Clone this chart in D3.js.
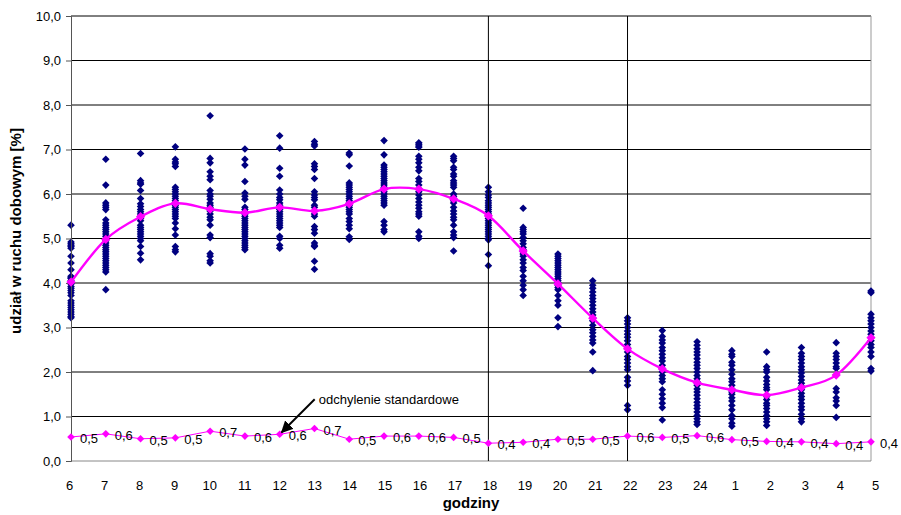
<!DOCTYPE html>
<html>
<head>
<meta charset="utf-8">
<script src="https://cdn.jsdelivr.net/npm/d3@7"></script>
<style>
  body { margin: 0; background: #fff; }
  svg { font-family: "Liberation Sans", Arial, sans-serif; }
</style>
</head>
<body>
<svg id="chart"></svg>
<script>
const width = 901
const height = 515

// hours on the x axis
const hourLabels = ['6', '7', '8', '9', '10', '11', '12', '13', '14', '15', '16', '17',
  '18', '19', '20', '21', '22', '23', '24', '1', '2', '3', '4', '5']

// mean share per hour (smoothed magenta line)
const meanVals = [4.02, 4.98, 5.49, 5.79, 5.66, 5.58, 5.70, 5.62, 5.78, 6.11, 6.11, 5.89,
  5.51, 4.72, 3.98, 3.21, 2.52, 2.07, 1.76, 1.60, 1.48, 1.65, 1.93, 2.77]

// standard deviation per hour
const stdVals = [0.54, 0.61, 0.50, 0.52, 0.67, 0.56, 0.60, 0.73, 0.49, 0.56, 0.56, 0.53,
  0.40, 0.42, 0.49, 0.49, 0.56, 0.53, 0.57, 0.48, 0.44, 0.43, 0.39, 0.43]

// single measurements, one list per hour
const samples = [
  [5.3, 4.92, 4.88, 4.85, 4.82, 4.78, 4.6, 4.45, 4.3, 4.15, 4.1, 4.05, 3.98, 3.92, 3.88, 3.83, 3.78, 3.72, 3.6, 3.55, 3.5, 3.45, 3.4, 3.35, 3.3, 3.25, 3.22, 4.0, 4.12],
  [6.78, 6.2, 5.8, 5.75, 5.7, 5.65, 5.42, 5.35, 5.3, 5.25, 5.2, 5.15, 5.1, 5.05, 5.0, 4.95, 4.9, 4.85, 4.8, 4.75, 4.7, 4.65, 4.6, 4.55, 4.5, 4.45, 4.4, 4.35, 4.3, 4.25, 3.85],
  [6.91, 6.3, 6.25, 6.22, 6.08, 5.9, 5.78, 5.72, 5.65, 5.6, 5.55, 5.5, 5.45, 5.4, 5.3, 5.25, 5.2, 5.15, 5.1, 5.05, 5.0, 4.95, 4.82, 4.67, 4.52],
  [7.06, 6.78, 6.72, 6.68, 6.62, 6.15, 6.1, 6.05, 6.0, 5.95, 5.9, 5.85, 5.8, 5.75, 5.7, 5.65, 5.6, 5.55, 5.5, 5.45, 5.35, 5.22, 5.08, 4.82, 4.75, 4.7],
  [7.76, 6.8, 6.7, 6.5, 6.4, 6.32, 6.08, 6.0, 5.95, 5.88, 5.8, 5.75, 5.7, 5.62, 5.55, 5.48, 5.42, 5.3, 5.08, 5.02, 4.66, 4.6, 4.5, 4.45],
  [7.01, 6.78, 6.65, 6.28, 6.02, 5.95, 5.88, 5.7, 5.65, 5.6, 5.55, 5.5, 5.45, 5.4, 5.35, 5.3, 5.25, 5.2, 5.15, 5.1, 5.05, 5.0, 4.95, 4.9, 4.85, 4.8, 4.75],
  [7.31, 7.03, 6.58, 6.4, 6.09, 6.0, 5.92, 5.87, 5.8, 5.75, 5.7, 5.65, 5.6, 5.55, 5.5, 5.45, 5.4, 5.35, 5.3, 5.25, 5.05, 5.0, 4.85, 4.78],
  [7.18, 7.12, 7.08, 6.68, 6.62, 6.55, 6.35, 6.05, 5.98, 5.92, 5.87, 5.75, 5.7, 5.62, 5.55, 5.5, 5.27, 5.2, 5.12, 4.9, 4.85, 4.82, 4.49, 4.31],
  [6.92, 6.88, 6.63, 6.25, 6.2, 6.15, 6.1, 6.05, 6.0, 5.95, 5.9, 5.85, 5.8, 5.75, 5.7, 5.65, 5.6, 5.55, 5.45, 5.38, 5.3, 5.22, 5.04, 4.98],
  [7.2, 6.88, 6.65, 6.6, 6.55, 6.5, 6.45, 6.4, 6.35, 6.3, 6.25, 6.2, 6.15, 6.1, 6.05, 6.0, 5.95, 5.9, 5.85, 5.8, 5.75, 5.38, 5.3, 5.2, 5.15],
  [7.15, 7.12, 7.08, 7.05, 6.85, 6.78, 6.7, 6.6, 6.52, 6.35, 6.28, 6.2, 6.12, 6.05, 5.98, 5.9, 5.82, 5.75, 5.68, 5.6, 5.55, 5.5, 5.15, 5.05, 5.0],
  [6.85, 6.8, 6.75, 6.6, 6.55, 6.45, 6.4, 6.3, 6.25, 6.2, 6.15, 6.0, 5.95, 5.9, 5.85, 5.8, 5.7, 5.62, 5.55, 5.48, 5.42, 5.3, 5.15, 5.08, 5.02, 4.72],
  [6.15, 6.05, 5.98, 5.92, 5.85, 5.8, 5.75, 5.7, 5.65, 5.6, 5.55, 5.5, 5.45, 5.4, 5.35, 5.3, 5.25, 5.2, 5.15, 5.1, 5.05, 5.0, 4.97, 4.64, 4.39],
  [5.68, 5.25, 5.2, 5.15, 5.1, 5.02, 4.95, 4.88, 4.8, 4.75, 4.7, 4.65, 4.6, 4.52, 4.45, 4.35, 4.28, 4.15, 4.05, 3.95, 3.85, 3.72],
  [4.65, 4.6, 4.55, 4.5, 4.45, 4.4, 4.35, 4.3, 4.25, 4.2, 4.15, 4.1, 4.05, 4.0, 3.95, 3.9, 3.85, 3.72, 3.6, 3.5, 3.22, 3.02],
  [4.05, 3.95, 3.88, 3.8, 3.72, 3.65, 3.58, 3.5, 3.42, 3.35, 3.28, 3.22, 3.15, 3.05, 2.95, 2.88, 2.8, 2.72, 2.65, 2.45, 2.03],
  [3.22, 3.15, 3.08, 3.0, 2.92, 2.85, 2.78, 2.7, 2.62, 2.55, 2.45, 2.35, 2.28, 2.2, 2.12, 2.05, 1.88, 1.8, 1.7, 1.25, 1.15],
  [2.93, 2.8, 2.72, 2.65, 2.55, 2.48, 2.4, 2.32, 2.25, 2.15, 2.08, 2.0, 1.92, 1.85, 1.78, 1.6, 1.5, 1.4, 1.3, 1.2, 0.92],
  [2.68, 2.6, 2.52, 2.45, 2.38, 2.3, 2.22, 2.15, 2.08, 2.0, 1.92, 1.85, 1.78, 1.7, 1.62, 1.55, 1.48, 1.4, 1.32, 1.25, 1.18, 1.1, 1.02, 0.95, 0.88, 0.82],
  [2.48, 2.4, 2.35, 2.22, 2.15, 2.05, 1.95, 1.85, 1.78, 1.7, 1.62, 1.55, 1.5, 1.42, 1.35, 1.25, 1.15, 1.02, 0.95, 0.85, 0.78],
  [2.45, 2.12, 2.05, 2.0, 1.88, 1.8, 1.72, 1.65, 1.6, 1.45, 1.38, 1.3, 1.25, 1.18, 1.1, 1.02, 0.95, 0.88, 0.8],
  [2.55, 2.42, 2.35, 2.28, 2.2, 2.12, 2.05, 1.98, 1.9, 1.82, 1.75, 1.68, 1.6, 1.52, 1.45, 1.38, 1.3, 1.22, 1.15, 1.05, 0.95, 0.88],
  [2.66, 2.42, 2.35, 2.28, 2.2, 2.12, 2.08, 1.93, 1.63, 1.55, 1.42, 1.35, 1.25, 0.98],
  [3.82, 3.78, 3.3, 3.22, 3.15, 3.08, 3.0, 2.92, 2.85, 2.78, 2.7, 2.62, 2.55, 2.45, 2.35, 2.08, 2.02]
]

const yTicks = [0, 1, 2, 3, 4, 5, 6, 7, 8, 9, 10]
const dividerHours = ['18', '22']

const svg = d3.select('#chart').attr('width', width).attr('height', height)

const x = d3.scaleLinear().domain([0, hourLabels.length - 1]).range([71, 871])
const xLab = d3.scalePoint().domain(hourLabels).range([69, 875])
const y = d3.scaleLinear().domain([0, 10]).range([461, 16])

const comma = d3.formatLocale({ decimal: ',', thousands: ' ', grouping: [3], currency: ['', ''] })
const f1 = comma.format('.1f')

const diamond = (r) => `M0,${-r}L${r},0L0,${r}L${-r},0Z`

// horizontal gridlines
svg.append('g')
  .selectAll('line')
  .data(yTicks.slice(1))
  .join('line')
  .attr('x1', x(0)).attr('x2', x(hourLabels.length - 1))
  .attr('y1', d => y(d)).attr('y2', d => y(d))
  .attr('stroke', '#000')
  .attr('stroke-width', 1)

// right border + bottom line
svg.append('line')
  .attr('x1', x(hourLabels.length - 1)).attr('x2', x(hourLabels.length - 1))
  .attr('y1', y(10)).attr('y2', y(0))
  .attr('stroke', '#999')
svg.append('line')
  .attr('x1', x(0)).attr('x2', x(hourLabels.length - 1))
  .attr('y1', y(0)).attr('y2', y(0))
  .attr('stroke', '#888')

// scatter of single measurements
const pts = []
samples.forEach((list, i) => list.forEach(v => pts.push({ i, v })))
svg.append('g')
  .selectAll('path')
  .data(pts)
  .join('path')
  .attr('transform', d => `translate(${x(d.i)},${y(d.v)})`)
  .attr('d', diamond(3.8))
  .attr('fill', '#000080')

// vertical divider lines
svg.append('g')
  .selectAll('line')
  .data(dividerHours)
  .join('line')
  .attr('x1', d => x(hourLabels.indexOf(d))).attr('x2', d => x(hourLabels.indexOf(d)))
  .attr('y1', y(10)).attr('y2', y(0))
  .attr('stroke', '#000')
  .attr('stroke-width', 1)

// y axis
const yAxis = svg.append('g')
  .attr('transform', `translate(${x(0)},0)`)
  .call(d3.axisLeft(y).tickValues(yTicks).tickFormat(f1).tickSize(5).tickPadding(5))
yAxis.select('.domain').attr('stroke', '#555')
yAxis.selectAll('.tick line').attr('stroke', '#555')
yAxis.selectAll('text').attr('font-size', 13).attr('fill', '#000')
  .attr('font-family', '"Liberation Sans", Arial, sans-serif')

// x axis labels
const xAxis = svg.append('g')
  .attr('transform', `translate(0,${y(0)})`)
  .call(d3.axisBottom(xLab).tickSize(0).tickPadding(20))
xAxis.select('.domain').remove()
xAxis.selectAll('text').attr('font-size', 13).attr('fill', '#000')
  .attr('font-family', '"Liberation Sans", Arial, sans-serif')

// mean curve
const meanLine = d3.line()
  .x((d, i) => x(i))
  .y(d => y(d))
  .curve(d3.curveCardinal.tension(0))
svg.append('path')
  .datum(meanVals)
  .attr('d', meanLine)
  .attr('fill', 'none')
  .attr('stroke', '#ff00ff')
  .attr('stroke-width', 2.4)
svg.append('g')
  .selectAll('path')
  .data(meanVals)
  .join('path')
  .attr('transform', (d, i) => `translate(${x(i)},${y(d)})`)
  .attr('d', diamond(4.6))
  .attr('fill', '#ff00ff')

// standard deviation line
const stdLine = d3.line().x((d, i) => x(i)).y(d => y(d))
svg.append('path')
  .datum(stdVals)
  .attr('d', stdLine)
  .attr('fill', 'none')
  .attr('stroke', '#ff00ff')
  .attr('stroke-width', 1)
svg.append('g')
  .selectAll('path')
  .data(stdVals)
  .join('path')
  .attr('transform', (d, i) => `translate(${x(i)},${y(d)})`)
  .attr('d', diamond(3.8))
  .attr('fill', '#ff00ff')
svg.append('g')
  .selectAll('text')
  .data(stdVals)
  .join('text')
  .attr('x', (d, i) => x(i) + 9)
  .attr('y', d => y(d) + 6)
  .attr('font-size', 13)
  .attr('fill', '#000')
  .text(d => f1(d))

// annotation with arrow
const defs = svg.append('defs')
defs.append('marker')
  .attr('id', 'arrow')
  .attr('viewBox', '0 0 10 10')
  .attr('refX', 9).attr('refY', 5)
  .attr('markerWidth', 6).attr('markerHeight', 6)
  .attr('orient', 'auto')
  .append('path')
  .attr('d', 'M0,0L10,5L0,10Z')
  .attr('fill', '#000')

const ax = x(hourLabels.indexOf('12'))
const ay = y(stdVals[hourLabels.indexOf('12')])
svg.append('line')
  .attr('x1', ax + 35).attr('y1', ay - 35)
  .attr('x2', ax + 2).attr('y2', ay - 2)
  .attr('stroke', '#000')
  .attr('stroke-width', 2)
  .attr('marker-end', 'url(#arrow)')
svg.append('text')
  .attr('x', ax + 39)
  .attr('y', ay - 30)
  .attr('font-size', 13)
  .attr('fill', '#000')
  .text('odchylenie standardowe')

// axis titles
svg.append('text')
  .attr('x', (x(0) + x(hourLabels.length - 1)) / 2)
  .attr('y', 508)
  .attr('text-anchor', 'middle')
  .attr('font-size', 15)
  .attr('font-weight', 'bold')
  .text('godziny')

svg.append('text')
  .attr('transform', 'translate(21,231) rotate(-90)')
  .attr('text-anchor', 'middle')
  .attr('font-size', 15)
  .attr('font-weight', 'bold')
  .text('udział w ruchu dobowym [%]')
</script>
</body>
</html>
